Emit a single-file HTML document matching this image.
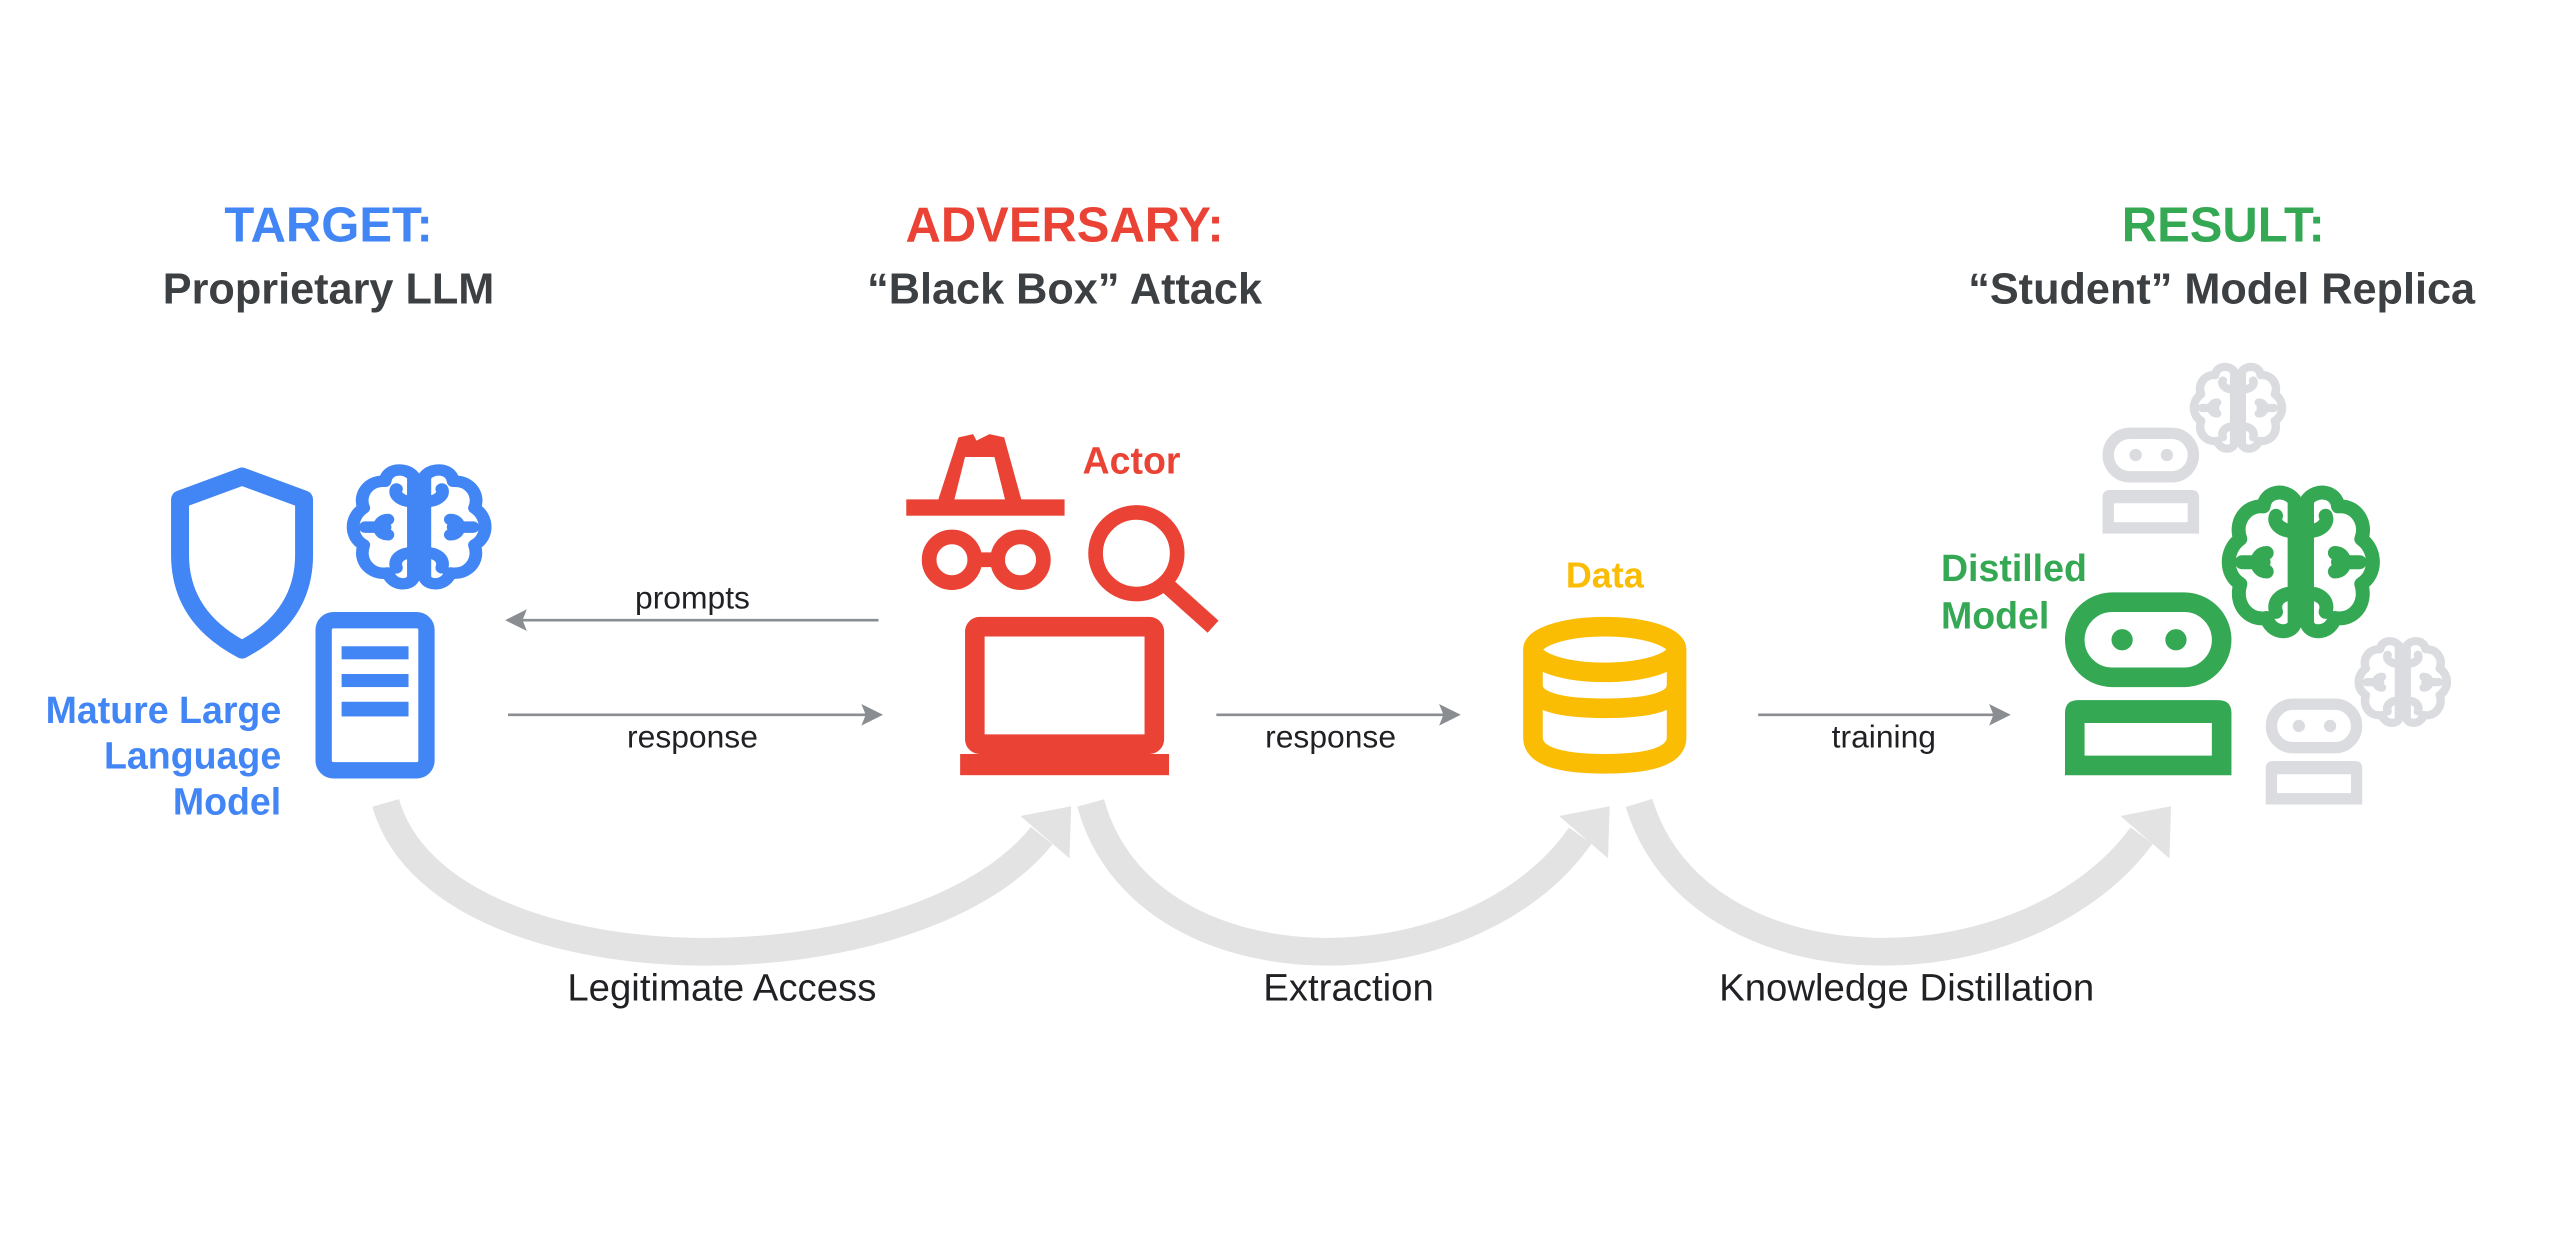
<!DOCTYPE html>
<html><head><meta charset="utf-8"><style>
html,body{margin:0;padding:0;background:#fff;}
svg{display:block;}
text{font-family:"Liberation Sans",sans-serif;}
</style></head><body>
<svg width="2560" height="1255" viewBox="0 0 1568 769" xmlns="http://www.w3.org/2000/svg">
<defs>
<g id="brain" fill="none" stroke-width="9" stroke-linecap="round" stroke-linejoin="round">
  <path d="M46,10 C40,2 27,4 26,14 C14,13 7,25 11,35 C1,42 1,58 11,64 C7,77 16,88 28,86 C31,96 43,97 46,90 Z"/>
  <path d="M54,10 C60,2 73,4 74,14 C86,13 93,25 89,35 C99,42 99,58 89,64 C93,77 84,88 72,86 C69,96 57,97 54,90 Z"/>
  <path d="M46,30 C36,30 32,24 34,20"/><path d="M12,50 L26,50"/><path d="M46,70 C36,70 32,76 34,82"/>
  <path d="M54,30 C64,30 68,24 66,20"/><path d="M88,50 L74,50"/><path d="M54,70 C64,70 68,76 66,82"/>
  <path d="M28,44 C20,44 20,56 28,56"/><path d="M72,44 C80,44 80,56 72,56"/>
</g>
<g id="robot">
  <rect x="6" y="6" width="90" height="46" rx="23" fill="none" stroke-width="12"/>
  <circle cx="35" cy="29" r="6"/><circle cx="68" cy="29" r="6" />
  <path d="M0,112 L0,74 Q0,66 8,66 L94,66 Q102,66 102,74 L102,112 Z M12,80 L12,100 L90,100 L90,80 Z" fill-rule="evenodd" stroke="none"/>
</g>
</defs>

<!-- Headings -->
<g font-weight="bold" text-anchor="middle">
<text x="201" y="148" font-size="30" fill="#4285F4">TARGET:</text>
<text x="201" y="186" font-size="26.5" fill="#3c4043">Proprietary LLM</text>
<text x="652" y="148" font-size="30" fill="#EA4335">ADVERSARY:</text>
<text x="652" y="186" font-size="26.5" fill="#3c4043">“Black Box” Attack</text>
<text x="1362" y="148" font-size="30" fill="#34A853">RESULT:</text>
<text x="1361" y="186" font-size="26.5" fill="#3c4043">“Student” Model Replica</text>
</g>

<!-- Target icons -->
<path d="M110,306 L148,292 L186,306 L186,340 Q186,378 148,398 Q110,378 110,340 Z" fill="none" stroke="#4285F4" stroke-width="11" stroke-linejoin="round"/>
<use href="#brain" transform="translate(213,284) scale(0.87,0.78)" stroke="#4285F4"/>
<rect x="198" y="380" width="63" height="92" rx="6" fill="none" stroke="#4285F4" stroke-width="10"/>
<rect x="209" y="396" width="41" height="8" fill="#4285F4"/>
<rect x="209" y="413" width="41" height="8" fill="#4285F4"/>
<rect x="209" y="430" width="41" height="9" fill="#4285F4"/>
<g font-weight="bold" text-anchor="end" font-size="23" fill="#4285F4">
<text x="172" y="443">Mature Large</text>
<text x="172" y="471">Language</text>
<text x="172" y="499">Model</text>
</g>

<!-- arrows -->
<g stroke="#8a8d91" stroke-width="1.6" fill="#8a8d91">
<line x1="318" y1="380" x2="538" y2="380"/><path d="M311,380 L321,375 L319,380 L321,385 Z"/>
<line x1="311" y1="438" x2="532" y2="438"/><path d="M539,438 L529,433 L531,438 L529,443 Z"/>
<line x1="745" y1="438" x2="886" y2="438"/><path d="M893,438 L883,433 L885,438 L883,443 Z"/>
<line x1="1077" y1="438" x2="1223" y2="438"/><path d="M1230,438 L1220,433 L1222,438 L1220,443 Z"/>
</g>
<g font-size="19.5" fill="#202124" text-anchor="middle">
<text x="424" y="373">prompts</text>
<text x="424" y="458">response</text>
<text x="815" y="458">response</text>
<text x="1154" y="458">training</text>
</g>

<!-- Actor -->
<g fill="#EA4335" stroke="none">
<path d="M587,268 L596,266 L598,270 L606,266 L615,268 L626,308 L616,308 L609,280 L591,280 L584,308 L574,308 Z"/>
<rect x="555" y="306" width="97" height="10"/>
</g>
<g fill="none" stroke="#EA4335" stroke-width="9">
<circle cx="583" cy="343" r="14"/><circle cx="625" cy="343" r="14"/>
<line x1="597" y1="343" x2="611" y2="343"/>
<circle cx="696" cy="339" r="25"/>
<line x1="714" y1="358" x2="743" y2="384" stroke-width="10"/>
<rect x="597" y="384" width="110" height="72" rx="3" stroke-width="12"/>
</g>
<rect x="588" y="462" width="128" height="13" fill="#EA4335"/>
<text x="663" y="290" font-size="23" font-weight="bold" fill="#EA4335">Actor</text>

<!-- Data -->
<text x="983" y="360" font-size="22" font-weight="bold" fill="#FBBC04" text-anchor="middle">Data</text>
<g fill="none" stroke="#FBBC04" stroke-width="12">
<ellipse cx="983" cy="398" rx="44" ry="14"/>
<path d="M939,398 L939,452 Q939,468 983,468 Q1027,468 1027,452 L1027,398"/>
<path d="M939,420 Q939,434 983,434 Q1027,434 1027,420"/>
</g>

<!-- Result icons -->
<use href="#robot" transform="translate(1288,262) scale(0.58)" fill="#dadce0" stroke="#dadce0"/>
<use href="#brain" transform="translate(1342,222) scale(0.58,0.56)" stroke="#dadce0"/>
<use href="#robot" transform="translate(1388,428) scale(0.58)" fill="#dadce0" stroke="#dadce0"/>
<use href="#brain" transform="translate(1443,390) scale(0.58,0.56)" stroke="#dadce0"/>
<use href="#brain" transform="translate(1362,297) scale(0.95,0.95)" stroke="#34A853"/>
<use href="#robot" transform="translate(1265,363)" fill="#34A853" stroke="#34A853"/>
<g font-weight="bold" font-size="23" fill="#34A853">
<text x="1189" y="356">Distilled</text>
<text x="1189" y="385">Model</text>
</g>

<!-- curved arrows -->
<g fill="none" stroke="#e3e3e3" stroke-width="17">
<path d="M236,492 C270,610 560,610 638,512"/>
<path d="M668,492 C700,610 900,610 968,512"/>
<path d="M1004,492 C1040,610 1240,610 1312,512"/>
</g>
<g fill="#e3e3e3">
<path d="M656,494 L625,500 L655,526 Z"/>
<path d="M986,494 L955,500 L985,526 Z"/>
<path d="M1330,494 L1299,500 L1329,526 Z"/>
</g>
<g font-size="23.5" fill="#202124" text-anchor="middle">
<text x="442" y="613">Legitimate Access</text>
<text x="826" y="613">Extraction</text>
<text x="1168" y="613">Knowledge Distillation</text>
</g>
</svg>
</body></html>
